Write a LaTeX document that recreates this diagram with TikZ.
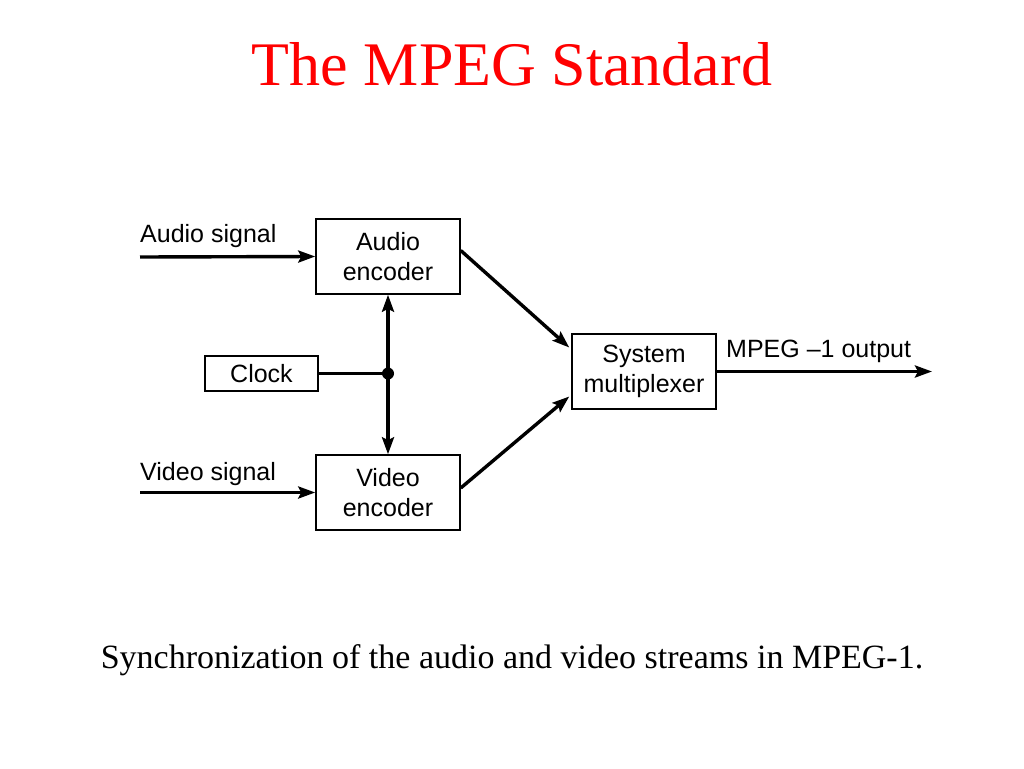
\documentclass[tikz,border=0pt]{standalone}
\usepackage{fontspec}
\setmainfont{Liberation Serif}
\newfontfamily\diagfont{Liberation Sans}
\usetikzlibrary{arrows.meta}
\begin{document}
\begin{tikzpicture}[x=1pt,y=-1pt,
  blk/.style={draw,line width=1.5pt,minimum width=144pt,minimum height=75pt,align=center,inner sep=0pt,font=\diagfont\fontsize{25}{30}\selectfont},
  lbl/.style={anchor=base west,inner sep=0pt,font=\diagfont\fontsize{25}{30}\selectfont},
  conn/.style={line width=3.4pt,-{Stealth[length=17pt,width=12pt,inset=3pt]}},
  plain/.style={line width=3.4pt}]
\useasboundingbox (0,0) rectangle (1024,768);
\node[text=red,font=\fontsize{62}{70}\selectfont] (title) at (512,64) {The MPEG Standard};
\node[blk] (audio) at (388,256.5) {Audio\\encoder};
\node[blk] (video) at (388,492.5) {Video\\encoder};
\node[blk,minimum width=113pt,minimum height=35pt] (clock) at (261.5,373.5) {Clock};
\node[blk] (mux) at (644,371.5) {System\\multiplexer};
\node[circle,fill,inner sep=0pt,minimum size=12pt] (j) at (388,373.5) {};
\coordinate (ain) at (140,257);
\coordinate (vin) at (140,492.5);
\coordinate (out) at (932,371.5);
\node[lbl] (alab) at (140,242) {Audio signal};
\node[lbl] (vlab) at (140,480) {Video signal};
\node[lbl] (olab) at (726,357) {MPEG –1 output};
\draw[conn] (ain) -- (audio.west);
\draw[conn] (vin) -- (video.west);
\draw[plain] (clock.east) -- (j.center);
\draw[conn] (j.center) -- (audio.south);
\draw[conn] (j.center) -- (video.north);
\draw[conn] ([yshift=6pt]audio.east) -- ([yshift=24pt,xshift=-2pt]mux.west);
\draw[conn] ([yshift=4.5pt]video.east) -- ([yshift=-25pt,xshift=-2pt]mux.west);
\draw[conn] (mux.east) -- (out);
\node[font=\fontsize{34}{40}\selectfont] (cap) at (512,660) {Synchronization of the audio and video streams in MPEG-1.};
\end{tikzpicture}
\end{document}
